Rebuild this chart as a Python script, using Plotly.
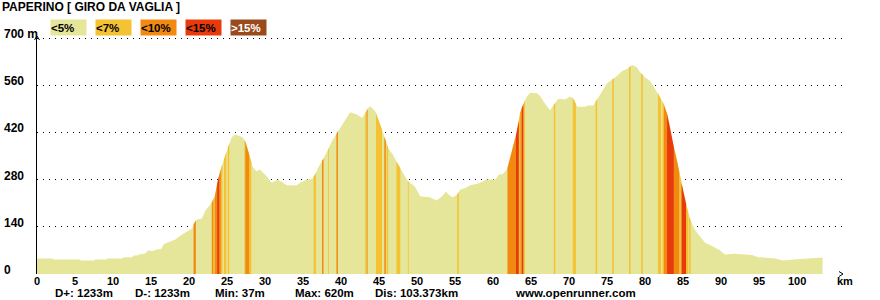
import numpy as np
import plotly.graph_objects as go

title = "PAPERINO [ GIRO DA VAGLIA ]"

# elevation profile (km, m)
dist_km = [0, 0.5, 2.0, 2.2, 5.6, 5.8, 7.5, 7.7, 9.1, 9.3, 11.2, 11.4, 12.5, 12.7, 13.2, 13.4,
           14.2, 14.6, 15.2, 15.8, 16.4, 16.6, 17.1, 18.2, 19.1, 20.4, 20.7, 21.0, 21.7, 22.1,
           22.5, 23.0, 23.4, 23.8, 24.3, 24.7, 25.1, 25.6, 26.0, 26.4, 26.7, 27.1, 27.5, 27.8,
           28.1, 28.4, 28.9, 29.3, 30.0, 30.9, 31.7, 32.4, 32.9, 34.2, 34.6, 35.5, 36.2, 36.6,
           37.0, 37.5, 37.9, 38.3, 38.8, 39.5, 40.1, 40.5, 41.2, 42.1, 42.8, 43.2, 43.6, 43.9,
           44.5, 44.9, 45.4, 45.8, 46.2, 46.8, 47.5, 48.2, 48.8, 49.7, 50.4, 51.7, 52.4, 52.6,
           53.3, 53.8, 54.3, 54.7, 55.3, 55.7, 56.3, 57.0, 57.6, 58.3, 59.2, 60.3, 60.8, 61.3,
           61.8, 62.1, 62.4, 62.6, 63.0, 63.3, 63.5, 63.8, 64.1, 64.5, 64.9, 65.8, 66.2, 66.6,
           67.1, 67.5, 68.2, 68.6, 69.5, 70.1, 70.5, 71.1, 72.1, 72.5, 73.2, 73.7, 74.3, 75.0,
           75.7, 76.3, 77.0, 77.6, 78.3, 78.9, 79.3, 80.0, 80.7, 81.1, 81.6, 82.0, 82.4, 82.9,
           83.3, 83.7, 84.2, 84.6, 85.0, 85.5, 85.9, 86.6, 87.2, 87.9, 88.8, 89.9, 90.5, 91.8,
           94.1, 94.9, 97.1, 98.2, 100.0, 103.37]
elev_m = [46, 46, 46, 43, 43, 40, 40, 43, 43, 46, 46, 50, 50, 55, 55, 58,
          60, 70, 68, 73, 75, 87, 93, 102, 117, 135, 153, 162, 165, 186,
          197, 212, 231, 280, 320, 346, 375, 405, 414, 412, 409, 404, 390, 364,
          340, 316, 305, 310, 295, 271, 280, 271, 263, 263, 271, 280, 282, 295,
          316, 335, 350, 369, 394, 419, 444, 458, 480, 473, 463, 478, 493, 497,
          483, 458, 429, 401, 374, 355, 325, 300, 275, 260, 231, 228, 221, 218,
          231, 244, 233, 228, 236, 251, 254, 263, 266, 271, 280, 280, 295, 297,
          310, 325, 350, 379, 409, 439, 473, 493, 510, 528, 538, 536, 528, 513,
          498, 486, 508, 520, 518, 526, 523, 496, 496, 500, 500, 518, 538, 565,
          577, 587, 602, 608, 620, 614, 600, 584, 572, 557, 542, 523, 508, 476,
          440, 385, 342, 292, 250, 198, 164, 130, 112, 93, 83, 70, 58, 60,
          56, 50, 46, 40, 44, 49]

# gradient stripes (km start, km end, category index)
stripe_start = [20.6, 23.0, 23.2, 23.4, 23.7, 24.0, 24.2, 24.6, 25.1, 27.3, 27.4, 27.9,
                36.4, 37.5, 38.3, 39.4, 43.2, 43.4, 44.6, 45.7, 46.0, 47.3, 48.8, 55.3,
                61.9, 63.0, 63.4, 63.6, 63.8, 64.0, 68.0, 70.5, 73.5, 75.7, 77.9, 79.5,
                81.7, 82.3, 82.5, 82.9, 83.8, 84.5, 84.8, 85.4, 85.8]
stripe_end = [20.9, 23.2, 23.4, 23.7, 24.0, 24.2, 24.4, 24.9, 25.3, 27.4, 27.9, 28.2,
              36.7, 37.7, 38.4, 39.6, 43.4, 43.5, 45.4, 45.9, 46.2, 47.8, 48.9, 55.5,
              63.0, 63.4, 63.6, 63.8, 64.0, 64.2, 68.2, 70.9, 73.7, 75.9, 78.1, 79.7,
              82.1, 82.5, 82.9, 83.8, 84.5, 84.8, 85.4, 85.7, 86.0]
stripe_cat = [2, 2, 1, 2, 3, 2, 1, 1, 1, 1, 2, 1,
              1, 2, 1, 2, 1, 2, 1, 2, 1, 1, 1, 1,
              2, 3, 1, 2, 3, 1, 1, 1, 1, 1, 1, 1,
              1, 1, 2, 3, 2, 1, 3, 1, 1]

cat_labels = ["<5%", "<7%", "<10%", "<15%", ">15%"]
cat_colors = ["#E6E69A", "#F4C232", "#F28A10", "#E93A0C", "#9A4A1C"]
cat_text_colors = ["black", "black", "black", "black", "white"]

x_ticks = list(range(0, 101, 5))
y_ticks = [0, 140, 280, 420, 560, 700]
y_tick_text = ["0", "140", "280", "420", "560", "700 m"]

stats = ["D+: 1233m", "D-: 1233m", "Min: 37m", "Max: 620m", "Dis: 103.373km", "www.openrunner.com"]

FONT = "Liberation Sans, Arial, sans-serif"
W, H = 880, 300
L, R, T, B = 37, 37, 36, 26
PW, PH = W - L - R, H - T - B
KM_PER_PX = 1 / 7.6
YMAX = 706


def px_x(px):
    return (px - L) / PW


def px_y(py):
    return (H - B - py) / PH


fig = go.Figure()

fig.add_trace(go.Scatter(x=dist_km, y=elev_m, mode="lines", fill="tozeroy",
                         line=dict(width=0, color=cat_colors[0]), fillcolor=cat_colors[0],
                         hoverinfo="skip", showlegend=False))

for c in range(1, 5):
    xs, ys = [], []
    for s, e, k in zip(stripe_start, stripe_end, stripe_cat):
        if k != c:
            continue
        h0 = float(np.interp(s, dist_km, elev_m))
        h1 = float(np.interp(e, dist_km, elev_m))
        xs += [s, s, e, e, s, None]
        ys += [0, h0, h1, 0, 0, None]
    if xs:
        fig.add_trace(go.Scatter(x=xs, y=ys, mode="lines", fill="toself",
                                 line=dict(width=0, color=cat_colors[c]),
                                 fillcolor=cat_colors[c], hoverinfo="skip",
                                 showlegend=False))

annotations = []
# y labels
for v, t in zip(y_ticks, y_tick_text):
    annotations.append(dict(xref="paper", yref="y", x=px_x(2), y=v, text=t,
                            xanchor="left", yanchor="middle", showarrow=False, yshift=4,
                            font=dict(family=FONT, size=12, color="black", weight="bold")))
# x labels
for v in x_ticks:
    annotations.append(dict(xref="x", yref="paper", x=v, y=px_y(280.5), text=str(v),
                            xanchor="center", yanchor="middle", showarrow=False,
                            font=dict(family=FONT, size=11, color="black", weight="bold")))
# title
annotations.append(dict(xref="paper", yref="paper", x=px_x(0), y=px_y(6.5),
                        text=title, xanchor="left", yanchor="middle", showarrow=False,
                        font=dict(family=FONT, size=12, color="black", weight="bold")))
# legend boxes
for i, (lab, col, tc) in enumerate(zip(cat_labels, cat_colors, cat_text_colors)):
    x0 = 50 + 45 * i
    annotations.append(dict(xref="paper", yref="paper", x=px_x(x0), y=px_y(27.5),
                            text=lab, xanchor="left", yanchor="middle", showarrow=False,
                            width=35, height=15, align="left", bgcolor=col, borderpad=0,
                            font=dict(family=FONT, size=11.5, color=tc, weight="bold")))
# stats
stat_x = [53, 133, 213, 293, 373, 513]
for sx, s in zip(stat_x, stats):
    annotations.append(dict(xref="paper", yref="paper", x=px_x(sx), y=px_y(292.5),
                            text=s, xanchor="left", yanchor="middle", showarrow=False,
                            font=dict(family=FONT, size=11.5, color="black", weight="bold")))
# km label
annotations.append(dict(xref="paper", yref="paper", x=px_x(845), y=px_y(280.5),
                        text="km", xanchor="center", yanchor="middle", showarrow=False,
                        font=dict(family=FONT, size=11, color="black", weight="bold")))

shapes = [
    # y-axis arrow
    dict(type="path", xref="paper", yref="paper",
         path=f"M {-2.5/PW} {1-4/PH} L 0 1 L {2.5/PW} {1-4/PH}",
         line=dict(color="black", width=1)),
    # x-axis arrow
    dict(type="path", xref="paper", yref="paper",
         path=f"M {1-4/PW} {2.5/PH} L 1 0 L {1-4/PW} {-2.5/PH}",
         line=dict(color="black", width=1)),
]

fig.update_layout(
    width=W, height=H, margin=dict(l=L, r=R, t=T, b=B),
    paper_bgcolor="white", plot_bgcolor="white",
    showlegend=False, annotations=annotations, shapes=shapes,
    xaxis=dict(range=[0, PW * KM_PER_PX], tickvals=x_ticks, ticks="", showgrid=False,
               showticklabels=False, zeroline=False, showline=False, fixedrange=True),
    yaxis=dict(range=[0, YMAX], tickvals=y_ticks, showticklabels=False, ticks="",
               showgrid=True, gridcolor="black", gridwidth=1, griddash="1px,5px",
               zeroline=False, showline=True, linecolor="black", linewidth=1, fixedrange=True),
)

fig.write_html("out.html")
